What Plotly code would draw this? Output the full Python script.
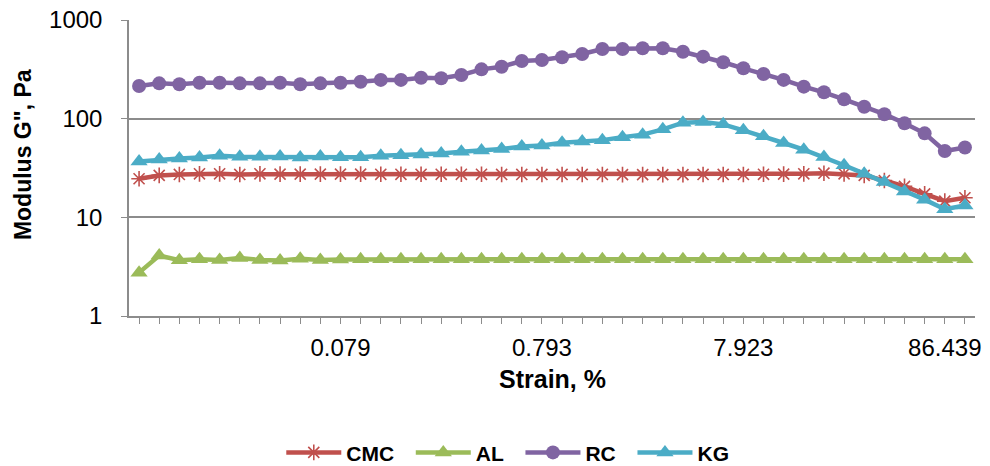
import plotly.graph_objects as go

strain = ["0.008", "0.010", "0.013", "0.016", "0.020", "0.025", "0.032", "0.040", "0.050", "0.063",
          "0.079", "0.100", "0.126", "0.158", "0.199", "0.251", "0.316", "0.398", "0.501", "0.631",
          "0.793", "0.998", "1.257", "1.582", "1.992", "2.508", "3.157", "3.975", "5.004", "6.300",
          "7.923", "9.975", "12.560", "15.810", "19.910", "25.060", "31.550", "39.720", "50.010", "64.300",
          "86.439", "100.000"]

cmc = [24.6, 26.6, 27.2, 27.6, 27.6, 27.2, 27.6, 27.4, 27.4, 27.4,
       27.4, 27.4, 27.3, 27.3, 27.3, 27.3, 27.3, 27.3, 27.2, 27.2,
       27.2, 27.2, 27.2, 27.2, 27.1, 27.1, 27.1, 27.1, 27.2, 27.2,
       27.2, 27.3, 27.4, 27.6, 28.0, 27.6, 26.6, 23.6, 20.6, 17.3,
       14.6, 15.8]

al = [2.75, 4.1, 3.67, 3.77, 3.70, 3.86, 3.70, 3.65, 3.80, 3.70,
      3.74, 3.75, 3.75, 3.76, 3.75, 3.76, 3.75, 3.76, 3.76, 3.76,
      3.76, 3.76, 3.76, 3.76, 3.76, 3.76, 3.76, 3.76, 3.76, 3.76,
      3.76, 3.76, 3.76, 3.76, 3.76, 3.76, 3.76, 3.76, 3.76, 3.76,
      3.76, 3.76]

rc = [214, 228, 223, 231, 231, 228, 228, 231, 223, 228,
      231, 237, 247, 247, 260, 257, 277, 316, 336, 384,
      393, 419, 452, 508, 508, 517, 517, 477, 425, 373,
      324, 284, 247, 211, 185, 157, 132, 111, 90, 71,
      47, 51]

kg = [36.9, 38.5, 39.4, 40.4, 42.0, 41.0, 41.0, 41.3, 40.4, 41.3,
      40.7, 40.7, 42.0, 42.6, 43.3, 44.3, 46.1, 47.5, 49.4, 52.1,
      53.6, 57.0, 58.8, 60.6, 64.8, 68.9, 78.0, 91.0, 92.5, 87.6,
      76.2, 66.2, 56.7, 48.5, 40.9, 33.7, 27.7, 22.8, 18.3, 15.1,
      12.1, 13.2]

x_title = "Strain, %"
y_title = "Modulus G\", Pa"
label_step = 10

idx = list(range(len(strain)))
ticktext = [s if (i % label_step == 0 and i > 0) else "" for i, s in enumerate(strain)]

FONT = "Liberation Sans, Arial, sans-serif"
GRID = "#8c8c8c"

series = [
    ("CMC", cmc, "#C0504D", "asterisk-open", 13),
    ("AL", al, "#9BBB59", "triangle-up", 15),
    ("RC", rc, "#8064A2", "circle", 14),
    ("KG", kg, "#4BACC6", "triangle-up", 15),
]

fig = go.Figure()
for name, vals, color, sym, size in series:
    fig.add_trace(go.Scatter(
        x=idx, y=vals, name="<b>" + name + "</b>&nbsp;&nbsp;", mode="lines+markers",
        line=dict(color=color, width=4.5),
        marker=dict(symbol=sym, size=size, color=color,
                    line=dict(color=color, width=1.6 if sym == "asterisk-open" else 0)),
    ))

fig.update_layout(
    width=990, height=466,
    margin=dict(l=129, r=15, t=20, b=150, autoexpand=False),
    paper_bgcolor="white", plot_bgcolor="white",
    font=dict(family=FONT, color="black", size=24),
    showlegend=True,
    legend=dict(orientation="h", x=0.18, xanchor="left", y=-0.462, yanchor="middle",
                font=dict(family=FONT, size=21, color="black"),
                itemwidth=55, tracegroupgap=0, bgcolor="rgba(0,0,0,0)"),
    xaxis=dict(
        range=[-0.5, len(strain) - 0.5], tickmode="array", tickvals=idx, ticktext=ticktext,
        ticks="outside", ticklen=6, tickcolor=GRID, tickwidth=1.3,
        showline=True, linecolor=GRID, linewidth=1.5, showgrid=False, zeroline=False,
        tickfont=dict(family=FONT, size=24), ticklabelstandoff=3, automargin=False,
    ),
    yaxis=dict(
        type="log", range=[0, 3], tickmode="array", tickvals=[1, 10, 100, 1000],
        ticktext=["1", "10", "100", "1000"],
        ticks="outside", ticklen=6, tickcolor=GRID, tickwidth=1.3,
        showline=True, linecolor=GRID, linewidth=1.5,
        showgrid=True, gridcolor=GRID, gridwidth=1.5, zeroline=False,
        tickfont=dict(family=FONT, size=24), ticklabelstandoff=14, automargin=False,
    ),
    annotations=[
        dict(text="<b>" + x_title + "</b>", xref="paper", yref="paper", x=0.5, y=-0.213,
             xanchor="center", yanchor="middle", showarrow=False,
             font=dict(family=FONT, size=25, color="black")),
        dict(text="<b>" + y_title + "</b>", xref="paper", yref="paper", x=-0.1253, y=0.547,
             xanchor="center", yanchor="middle", showarrow=False, textangle=-90,
             font=dict(family=FONT, size=23, color="black")),
    ],
)

fig.write_html("out.html")
